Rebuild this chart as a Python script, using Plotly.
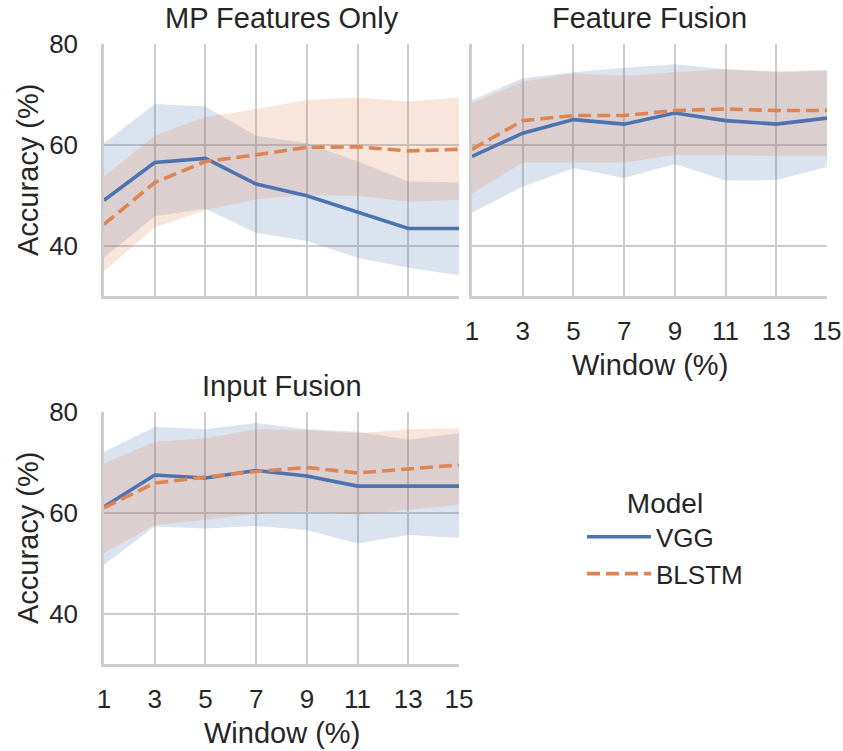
import plotly.graph_objects as go

# ---------------- data ----------------
window = [1, 3, 5, 7, 9, 11, 13, 15]
x_ticks = [1, 3, 5, 7, 9, 11, 13, 15]
y_ticks = [40, 60, 80]
panel_titles = ["MP Features Only", "Feature Fusion", "Input Fusion"]
models = ["VGG", "BLSTM"]

# MP Features Only
mp_vgg_mean = [49.0, 56.5, 57.3, 52.2, 49.9, 46.7, 43.4, 43.4]
mp_vgg_lo = [37.6, 45.8, 47.3, 42.5, 40.9, 37.6, 35.6, 34.1]
mp_vgg_hi = [60.3, 68.1, 67.6, 61.8, 60.3, 56.7, 52.7, 52.5]
mp_blstm_mean = [44.2, 52.5, 56.7, 58.0, 59.5, 59.6, 58.8, 59.1]
mp_blstm_lo = [34.9, 43.6, 47.0, 49.2, 50.0, 49.9, 48.7, 49.1]
mp_blstm_hi = [53.7, 61.8, 65.5, 67.1, 68.9, 69.4, 68.6, 69.4]

# Feature Fusion
ff_vgg_mean = [57.7, 62.3, 65.0, 64.1, 66.3, 64.8, 64.1, 65.3]
ff_vgg_lo = [46.5, 51.7, 55.4, 53.4, 56.2, 52.9, 53.0, 55.6]
ff_vgg_hi = [68.9, 73.2, 74.4, 75.3, 76.0, 75.0, 74.4, 74.7]
ff_blstm_mean = [59.1, 64.8, 65.8, 65.8, 66.8, 67.1, 66.8, 66.8]
ff_blstm_lo = [50.3, 56.5, 56.5, 56.5, 58.0, 58.0, 57.8, 57.8]
ff_blstm_hi = [68.3, 72.5, 74.2, 73.7, 74.4, 75.0, 74.6, 74.9]

# Input Fusion
if_vgg_mean = [61.2, 67.5, 66.9, 68.4, 67.3, 65.3, 65.3, 65.3]
if_vgg_lo = [49.7, 57.3, 56.9, 57.4, 56.6, 53.9, 55.6, 55.0]
if_vgg_hi = [72.1, 77.0, 76.6, 77.8, 76.6, 76.1, 74.5, 75.8]
if_blstm_mean = [61.0, 65.9, 67.1, 68.2, 69.0, 67.9, 68.7, 69.5]
if_blstm_lo = [52.0, 57.6, 58.6, 59.8, 60.3, 59.6, 60.6, 61.6]
if_blstm_hi = [69.8, 74.1, 74.8, 76.6, 76.4, 75.8, 76.6, 76.8]

# ---------------- style ----------------
W, H = 843, 751
FONT = "Liberation Sans, Arial, sans-serif"
TXT = "#262626"
GRID = "#cccccc"
BLUE = "#4C72B0"
ORANGE = "#DD8452"
FILL = {"VGG": "rgba(76,114,176,0.2)", "BLSTM": "rgba(221,132,82,0.2)"}
COLOR = {"VGG": BLUE, "BLSTM": ORANGE}
DASH = {"VGG": "solid", "BLSTM": "13px,6px"}


def px(v):
    return v / W


def py(v):
    return 1 - v / H


# panel pixel boxes (left, right, top, bottom)
boxes = [(104, 459, 44, 296), (472, 827, 44, 296), (104, 459, 412, 664)]

panels = [
    {"VGG": (mp_vgg_mean, mp_vgg_lo, mp_vgg_hi), "BLSTM": (mp_blstm_mean, mp_blstm_lo, mp_blstm_hi)},
    {"VGG": (ff_vgg_mean, ff_vgg_lo, ff_vgg_hi), "BLSTM": (ff_blstm_mean, ff_blstm_lo, ff_blstm_hi)},
    {"VGG": (if_vgg_mean, if_vgg_lo, if_vgg_hi), "BLSTM": (if_blstm_mean, if_blstm_lo, if_blstm_hi)},
]

fig = go.Figure()
layout = dict(
    template="none",
    width=W, height=H,
    margin=dict(l=0, r=0, t=0, b=0, autoexpand=False),
    paper_bgcolor="white", plot_bgcolor="white",
    font=dict(family=FONT, color=TXT, size=25),
    showlegend=True,
)

annotations = []
for i, (panel, box) in enumerate(zip(panels, boxes)):
    n = i + 1
    xa = "x" if n == 1 else f"x{n}"
    ya = "y" if n == 1 else f"y{n}"
    # bands first (below), then lines on top
    for m in models:
        mean, lo, hi = panel[m]
        fig.add_trace(go.Scatter(
            x=window + window[::-1], y=hi + lo[::-1],
            fill="toself", fillcolor=FILL[m], line=dict(width=0),
            mode="lines", hoverinfo="skip", showlegend=False,
            xaxis=xa, yaxis=ya))
    for m in models:
        mean, lo, hi = panel[m]
        fig.add_trace(go.Scatter(
            x=window, y=mean, mode="lines", name=m,
            line=dict(color=COLOR[m], width=3.6, dash=DASH[m]),
            showlegend=(n == 1), legendgroup=m,
            xaxis=xa, yaxis=ya))
    l, r, t, b = box
    show_xlab = n in (2, 3)
    show_ylab = n in (1, 3)
    layout["xaxis" if n == 1 else f"xaxis{n}"] = dict(
        domain=[px(l), px(r)], anchor=ya, range=[1, 15], automargin=False,
        tickvals=x_ticks, showticklabels=show_xlab,
        ticks="outside", ticklen=10, tickcolor="rgba(0,0,0,0)",
        showgrid=True, gridcolor=GRID, gridwidth=2,
        showline=True, linecolor=GRID, linewidth=2.5, zeroline=False,
        tickfont=dict(size=26, color=TXT))
    layout["yaxis" if n == 1 else f"yaxis{n}"] = dict(
        domain=[py(b), py(t)], anchor=xa, range=[30, 80], automargin=False,
        tickvals=y_ticks, showticklabels=show_ylab,
        ticks="outside", ticklen=18, tickcolor="rgba(0,0,0,0)",
        showgrid=True, gridcolor=GRID, gridwidth=2,
        showline=True, linecolor=GRID, linewidth=2.5, zeroline=False,
        tickfont=dict(size=26, color=TXT))
    # panel title
    annotations.append(dict(
        text=panel_titles[i], xref="paper", yref="paper",
        x=px((l + r) / 2), y=py(t), xanchor="center", yanchor="bottom",
        yshift=8, showarrow=False, font=dict(size=29, color=TXT)))
    if show_ylab:
        annotations.append(dict(
            text="Accuracy (%)", xref="paper", yref="paper",
            x=px(28), y=py((t + b) / 2), xanchor="center", yanchor="middle",
            textangle=-90, showarrow=False, font=dict(size=29, color=TXT)))
    if show_xlab:
        annotations.append(dict(
            text="Window (%)", xref="paper", yref="paper",
            x=px((l + r) / 2), y=py(b + 69), xanchor="center", yanchor="middle",
            showarrow=False, font=dict(size=29, color=TXT)))

layout["annotations"] = annotations
layout["legend"] = dict(
    x=px(582), y=py(477), xanchor="left", yanchor="top",
    title=dict(text="Model", side="top center", font=dict(size=28, color=TXT)),
    font=dict(size=26, color=TXT), bgcolor="rgba(0,0,0,0)",
    itemwidth=64, tracegroupgap=0)
fig.update_layout(**layout)
fig.write_html(
    "out.html",
    config={"displayModeBar": False},
    post_script="document.body.style.margin='0';document.body.style.overflow='hidden';",
)
